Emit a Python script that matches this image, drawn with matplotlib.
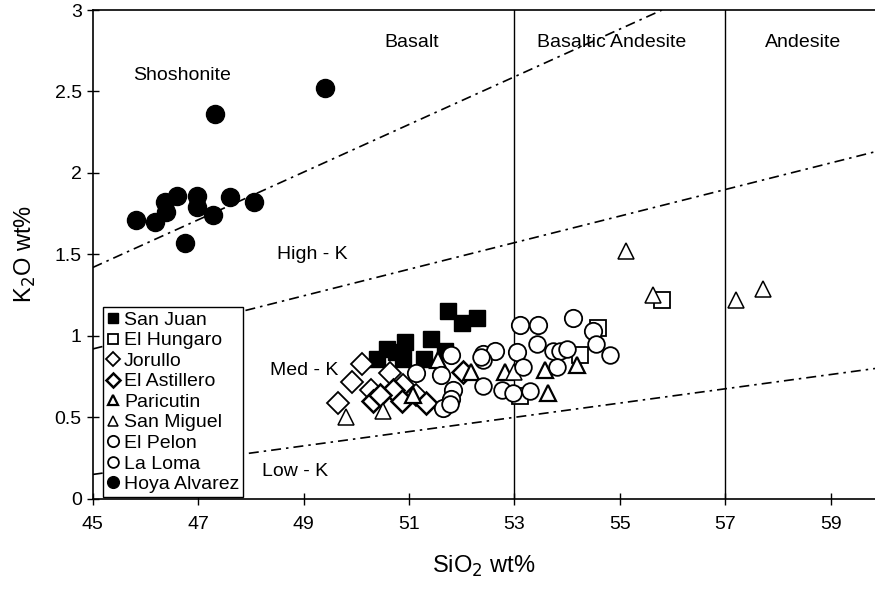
import matplotlib
matplotlib.use("Agg")
import matplotlib.pyplot as plt

plt.rcParams['font.family'] = ['Liberation Sans', 'DejaVu Sans']

# sample data (SiO2 wt%, K2O wt%)
san_juan_x = [50.40, 50.59, 50.92, 50.89, 51.28, 51.42, 51.68, 51.74, 52.01, 52.29, 50.75]
san_juan_y = [0.86, 0.92, 0.96, 0.86, 0.86, 0.98, 0.91, 1.15, 1.08, 1.11, 0.90]

el_hungaro_x = [55.79, 54.24, 54.58, 53.10]
el_hungaro_y = [1.22, 0.88, 1.05, 0.63]

jorullo_x = [49.66, 49.91, 50.10, 50.27, 50.64, 50.89, 51.14]
jorullo_y = [0.59, 0.72, 0.83, 0.67, 0.77, 0.70, 0.64]

astillero_x = [50.32, 50.70, 50.86, 51.32, 52.02, 50.45]
astillero_y = [0.60, 0.67, 0.60, 0.59, 0.78, 0.64]

paricutin_x = [51.07, 51.55, 52.18, 52.82, 53.58, 53.64, 54.18]
paricutin_y = [0.64, 0.85, 0.78, 0.78, 0.79, 0.65, 0.82]

san_miguel_x = [49.81, 50.50, 55.11, 55.63, 57.21, 57.72, 53.00]
san_miguel_y = [0.50, 0.54, 1.52, 1.25, 1.22, 1.29, 0.78]

el_pelon_x = [51.14, 51.80, 51.61, 51.84, 51.65, 51.80, 52.41, 52.63, 53.04, 53.10, 53.45, 54.11, 54.49]
el_pelon_y = [0.77, 0.88, 0.76, 0.67, 0.56, 0.61, 0.89, 0.91, 0.90, 1.07, 1.07, 1.11, 1.03]

la_loma_x = [54.55, 54.81, 53.42, 53.73, 53.86, 53.16, 52.41, 52.76, 53.29, 52.97, 53.80, 52.41, 53.99, 52.37, 51.77]
la_loma_y = [0.95, 0.88, 0.95, 0.91, 0.91, 0.81, 0.69, 0.67, 0.66, 0.65, 0.81, 0.85, 0.92, 0.87, 0.58]

hoya_x = [45.82, 46.18, 46.39, 46.37, 46.60, 46.97, 46.98, 47.28, 47.60, 48.06, 46.75, 47.32, 49.41]
hoya_y = [1.71, 1.70, 1.76, 1.82, 1.86, 1.86, 1.79, 1.74, 1.85, 1.82, 1.57, 2.36, 2.52]

# field boundaries
shoshonite_line_x = [45, 55.8]
shoshonite_line_y = [1.42, 3.0]
highk_line_x = [45, 59.84]
highk_line_y = [0.92, 2.13]
lowk_line_x = [45, 59.84]
lowk_line_y = [0.15, 0.80]
divisions = [53, 57]

fig = plt.figure(figsize=(8.75, 5.89), dpi=100)
ax = fig.add_axes([0.106, 0.153, 0.894, 0.830])

for xs, ys in [(shoshonite_line_x, shoshonite_line_y), (highk_line_x, highk_line_y),
               (lowk_line_x, lowk_line_y)]:
    ax.plot(xs, ys, color='black', lw=1.2, ls=(0, (6, 3, 1.5, 3)))
for d in divisions:
    ax.axvline(d, color='black', lw=1.0)

ec = 'black'
ax.plot(san_juan_x, san_juan_y, 's', ms=11.5, mfc='black', mec=ec, label='San Juan')
ax.plot(el_hungaro_x, el_hungaro_y, 's', ms=11, mfc='white', mec=ec, mew=1.3, label='El Hungaro')
ax.plot(jorullo_x, jorullo_y, 'D', ms=11, mfc='white', mec=ec, mew=1.3, label='Jorullo')
ax.plot(astillero_x, astillero_y, 'D', ms=11, mfc='white', mec=ec, mew=1.8, label='El Astillero')
ax.plot(paricutin_x, paricutin_y, '^', ms=12, mfc='white', mec=ec, mew=1.6, label='Paricutin')
ax.plot(san_miguel_x, san_miguel_y, '^', ms=12, mfc='white', mec=ec, mew=1.1, label='San Miguel')
ax.plot(el_pelon_x, el_pelon_y, 'o', ms=12.5, mfc='white', mec=ec, mew=1.3, label='El Pelon')
ax.plot(la_loma_x, la_loma_y, 'o', ms=12, mfc='white', mec=ec, mew=1.3, label='La Loma')
ax.plot(hoya_x, hoya_y, 'o', ms=13, mfc='black', mec=ec, label='Hoya Alvarez')

fs = 14
ax.text(51.05, 2.80, 'Basalt', ha='center', va='center', fontsize=fs)
ax.text(54.85, 2.80, 'Basaltic Andesite', ha='center', va='center', fontsize=fs)
ax.text(58.47, 2.80, 'Andesite', ha='center', va='center', fontsize=fs)
ax.text(46.69, 2.60, 'Shoshonite', ha='center', va='center', fontsize=fs)
ax.text(49.16, 1.50, 'High - K', ha='center', va='center', fontsize=fs)
ax.text(49.02, 0.79, 'Med - K', ha='center', va='center', fontsize=fs)
ax.text(48.83, 0.17, 'Low - K', ha='center', va='center', fontsize=fs)

ax.set_xlim(45, 59.84)
ax.set_ylim(0, 3)
ax.set_xticks(range(45, 60, 2))
ax.set_yticks([0, 0.5, 1, 1.5, 2, 2.5, 3])
ax.set_yticklabels(['0', '0.5', '1', '1.5', '2', '2.5', '3'])
ax.tick_params(direction='inout', length=9, width=1, labelsize=14, colors='black')
ax.tick_params(axis='x', pad=8)
ax.spines['right'].set_visible(False)
for s in ['left', 'bottom', 'top']:
    ax.spines[s].set_linewidth(1.2)

ax.set_xlabel('SiO$_2$ wt%', fontsize=17, labelpad=15)
ax.set_ylabel('K$_2$O wt%', fontsize=17, labelpad=12)

leg = ax.legend(loc='lower left', bbox_to_anchor=(0.0128, 0.004), borderaxespad=0,
                fontsize=14, markerscale=0.65, handlelength=0.7, handletextpad=0.2,
                labelspacing=0.15, borderpad=0.2, fancybox=False, framealpha=1,
                edgecolor='black')
leg.get_frame().set_linewidth(1.0)

fig.savefig('out.png', dpi=100)
